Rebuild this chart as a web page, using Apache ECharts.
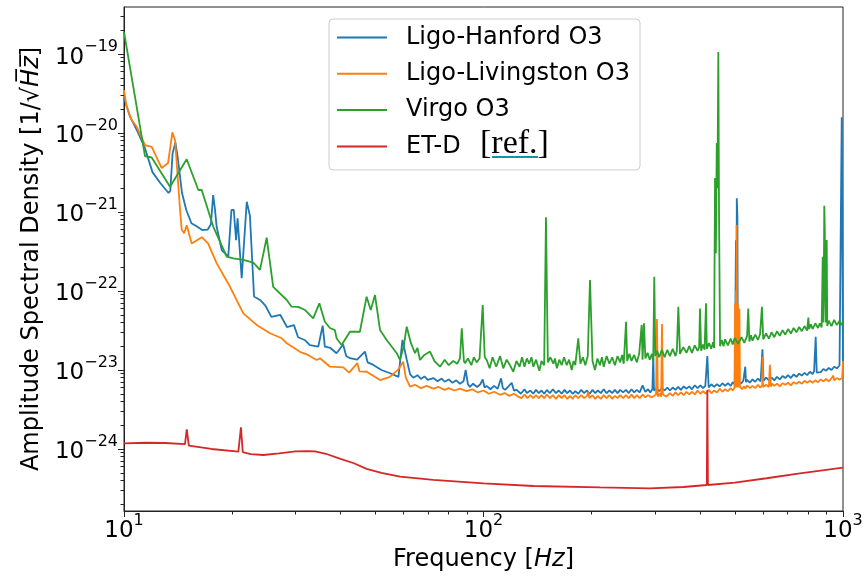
<!DOCTYPE html>
<html><head><meta charset="utf-8">
<script src="https://cdn.jsdelivr.net/npm/echarts@6/dist/echarts.min.js"></script>
<style>html,body{margin:0;padding:0;background:#fff}#c{width:864px;height:576px}</style>
</head><body><div id="c"></div>
<script>
// ---- data: [frequency (Hz), amplitude spectral density (1/sqrt(Hz))] ----
const hanford = [
[10,2.8e-20],[10.4,1.6e-20],[10.9,1.05e-20],[11.4,6.7e-21],[12.0,3.2e-21],[12.6,2.35e-21],[13.3,1.74e-21],[13.45,1.85e-21],[13.65,5.5e-21],[13.9,7.6e-21],[14.1,5.0e-21],[14.5,1.74e-21],[14.9,1.06e-21],[15.4,7.2e-22],[16.0,6.5e-22],[16.5,5.9e-22],[17.1,6.0e-22],[17.45,7.0e-22],[17.7,1.64e-21],[17.9,1.1e-21],[18.1,6.5e-22],[18.7,3.3e-22],[19.5,2.72e-22],[19.9,1.06e-21],[20.2,1.06e-21],[20.5,4.4e-22],[20.7,8.3e-22],[21.25,1.45e-22],[21.95,1.35e-21],[22.4,9.0e-22],[23.0,8.5e-23],[23.9,7.7e-23],[24.7,6.6e-23],[25.7,4.7e-23],[27.2,5.0e-23],[28.4,3.5e-23],[29.7,3.7e-23],[30.5,2.6e-23],[31.8,2.4e-23],[32.9,2.07e-23],[34.7,1.97e-23],[35.7,3.65e-23],[36.2,1.97e-23],[37.5,1.9e-23],[39.0,1.63e-23],[40.7,2.1e-23],[41.5,1.5e-23],[42.5,1.41e-23],[44.5,1.35e-23],[46.8,1.71e-23],[47.6,1.25e-23],[49.4,1.16e-23],[52,1.0e-23],[55,9.1e-24],[58,8.2e-24],[59.5,2.4e-23],
[61.2,1.34e-23],[62.5,8.8e-24],[63.8,8.0e-24],[65.5,8.6e-24],[67,7.7e-24],[68.5,8.3e-24],[70,7.5e-24],[72.5,7.9e-24],[74.5,7.2e-24],[76.5,7.8e-24],[78,7.1e-24],[80,7.6e-24],[82,6.9e-24],[84,7.4e-24],[86,6.7e-24],[88,7.2e-24],[89.2,1.0e-23],[90.5,6.6e-24],[91.7,6.1e-24],[93.5,6.7e-24],[96,6.1e-24],[98,6.6e-24],[99.5,7.6e-24],[100.7,6.0e-24],[102,6.3e-24],[104.5,5.7e-24],[107,6.3e-24],[109.5,5.8e-24],[111.9,7.85e-24],[113.2,5.9e-24],[114.8,5.6e-24],[117,6.1e-24],[119.8,6.9e-24],[121.5,5.5e-24],[123.7,5.6e-24],
[127,5.0e-24],[130,5.7e-24],[132,5.1e-24],[135,5.5e-24],[137.5,5.0e-24],[140,5.6e-24],[142.5,5.1e-24],[145,5.5e-24],[147.5,5.0e-24],[150,5.6e-24],[153,5.1e-24],[156,5.7e-24],[159,5.1e-24],[162,5.5e-24],[165,5.0e-24],[168,5.6e-24],[171,5.1e-24],[174,5.5e-24],[177,5.0e-24],[180,5.4e-24],[183.5,5.0e-24],[187,5.6e-24],[190.5,5.1e-24],[194,5.5e-24],[197.5,5.0e-24],[201,5.6e-24],[204.5,5.1e-24],[208,5.5e-24],[212,5.1e-24],[216,5.7e-24],[220,5.1e-24],[224,5.5e-24],[228,5.1e-24],[232,5.6e-24],[236,5.1e-24],[240,5.6e-24],[244.5,5.2e-24],[249,5.6e-24],[253.5,5.1e-24],[258,5.7e-24],[262.5,5.2e-24],[267,5.6e-24],[272,5.2e-24],[277,6.4e-24],[282,5.3e-24],[287,5.7e-24],[291,5.2e-24],[295,5.7e-24],[296.7,1.55e-23],[298,5.5e-24],[303,5.9e-24],[308,5.4e-24],[313.5,5.9e-24],[319,5.5e-24],[324.5,6.0e-24],[330,5.5e-24],[336,6.0e-24],[342,5.6e-24],[348,6.1e-24],[354,5.6e-24],[360.5,6.2e-24],[367,5.8e-24],[373.5,6.2e-24],[380,5.7e-24],[387,6.4e-24],[394,5.9e-24],[401,6.4e-24],[408,5.9e-24],[414,6.3e-24],[419.4,1.5e-23],[423,6.0e-24],[430.5,6.6e-24],[438,6.1e-24],[446,6.6e-24],[454,6.2e-24],[462,6.8e-24],[470,6.3e-24],[478.5,6.8e-24],[487,6.3e-24],[493.5,7.0e-24],[500,6.6e-24],[503.8,4.4e-22],[505,7.0e-24],[506.5,1.49e-21],[508.5,8.6e-22],[510,7.0e-24],[516,7.4e-24],[522,6.8e-24],[528,7.3e-24],[534.8,1.1e-23],[537,7.0e-24],[541,7.5e-24],[550.5,6.9e-24],[560,7.6e-24],[570,7.1e-24],[580,7.8e-24],[590,7.2e-24],[597,1.83e-23],[601,7.3e-24],[611.5,8.0e-24],[622,7.4e-24],[633,8.0e-24],[644,7.4e-24],[655.5,8.2e-24],[667,7.6e-24],[679,8.4e-24],[691,7.9e-24],[703.5,8.6e-24],[716,7.9e-24],[729,8.8e-24],[742,8.2e-24],[755,9.0e-24],[768,8.5e-24],[781.5,9.2e-24],[795,8.6e-24],[809,9.5e-24],[823,8.9e-24],[831,9.6e-24],[839.5,2.64e-23],[845,9.3e-24],[852,9.8e-24],[867,9.4e-24],[882,1.03e-23],[897.5,9.8e-24],[913,1.06e-23],[929,1.0e-23],[945,1.1e-23],[961.5,1.05e-23],[978,1.14e-23],[990,1.12e-23],[992,1.58e-20],[1000,1.2e-23]
];
const livingston = [
[10,3.5e-20],[10.17,2.15e-20],[10.5,1.46e-20],[10.85,1.2e-20],[11.44,7.05e-21],[11.94,6.7e-21],[12.73,3.6e-21],[13.26,4.17e-21],[13.63,1.02e-20],[13.87,8.1e-21],[14.32,1.06e-21],[14.47,6.0e-22],[14.7,5.4e-22],[14.94,6.8e-22],[15.43,4.0e-22],[16.45,4.8e-22],[17.13,4.0e-22],[18.11,2.24e-22],[19.72,1.13e-22],[21.47,5.2e-23],[23.39,3.72e-23],[25.48,2.92e-23],[27.46,2.52e-23],[28.36,2.18e-23],[30.87,1.7e-23],[32.5,1.55e-23],[34.36,1.34e-23],[35.1,1.41e-23],[37.41,1.1e-23],[40.74,1.08e-23],[42.3,9.25e-24],[44.56,1.22e-23],[45.2,9.6e-24],[47.33,9.5e-24],[51.54,7.46e-24],[54.94,8.2e-24],[57.94,1.02e-23],[59.8,1.27e-23],[60.8,8.0e-24],
[62.45,6.15e-24],[64.5,6.5e-24],[67,5.9e-24],[69.5,6.3e-24],[72.5,5.8e-24],[75,6.1e-24],[78,5.6e-24],[80,5.9e-24],[83,5.5e-24],[86,5.8e-24],[89.8,5.4e-24],[93,5.7e-24],[96.5,5.2e-24],[100,5.5e-24],[103.5,5.0e-24],[107,5.3e-24],[111.2,4.85e-24],[114.5,5.1e-24],[118,4.7e-24],[121.5,5.0e-24],
[125,4.6e-24],[127.5,4.4e-24],[130,4.9e-24],[132.5,4.4e-24],[135,4.8e-24],[137.5,4.4e-24],[140,4.8e-24],[142.5,4.4e-24],[145,4.8e-24],[147.5,4.4e-24],[150,4.9e-24],[153,4.4e-24],[156,4.8e-24],[159,4.3e-24],[162,4.8e-24],[165,4.4e-24],[168,4.8e-24],[171,4.3e-24],[174,4.7e-24],[177,4.3e-24],[180,4.8e-24],[183.5,4.4e-24],[187,4.8e-24],[190.5,4.4e-24],[194,4.7e-24],[195.6,5.3e-24],[197,4.4e-24],[201,4.8e-24],[204.5,4.3e-24],[208,4.7e-24],[212,4.3e-24],[216,4.8e-24],[220,4.4e-24],[224,4.8e-24],[228,4.3e-24],[232,4.7e-24],[236,4.4e-24],[240,4.8e-24],[244.5,4.4e-24],[249,4.8e-24],[253.5,4.4e-24],[258,4.9e-24],[262.5,4.4e-24],[267,4.8e-24],[272,4.4e-24],[277,4.9e-24],[282,4.5e-24],[287,4.8e-24],[294,4.5e-24],[302,4.9e-24],[303.8,4.43e-23],[305.5,4.6e-24],[309,5.0e-24],[312,4.6e-24],[313.7,3.82e-23],[315.5,4.9e-24],[322.5,4.6e-24],[330,5.1e-24],[336,4.7e-24],[342,5.2e-24],[348,4.8e-24],[354,5.2e-24],[360.5,4.8e-24],[367,5.3e-24],[373.5,4.9e-24],[380,5.3e-24],[387,4.9e-24],[394,5.5e-24],[401,5.0e-24],[408,5.4e-24],[415.5,5.0e-24],[423,5.6e-24],[430.5,5.1e-24],[438,5.5e-24],[446,5.2e-24],[454,5.8e-24],[462,5.3e-24],[470,5.7e-24],[478.5,5.4e-24],[487,5.9e-24],[493,5.5e-24],[499,5.9e-24],[501,7.0e-23],[502.5,6.0e-24],[504,1.0e-22],[505,6.0e-24],[506,6.84e-22],[507.5,6.0e-24],[510,7.0e-23],[512,6.0e-24],[515,6.0e-23],[517,6.1e-24],[523.5,5.7e-24],[530,6.2e-24],[535.5,5.8e-24],[541,6.4e-24],[550.5,5.9e-24],[560,6.3e-24],[570,5.9e-24],[580,6.5e-24],[588,6.0e-24],[596,6.4e-24],[597.5,1.47e-23],[599,6.1e-24],[610.5,6.5e-24],[622,6.1e-24],[626,1.16e-23],[630,6.2e-24],[637,6.7e-24],[644,6.3e-24],[655.5,6.7e-24],[667,6.2e-24],[679,6.8e-24],[691,6.5e-24],[703.5,6.9e-24],[716,6.4e-24],[729,7.0e-24],[742,6.7e-24],[755,7.1e-24],[768,6.7e-24],[781.5,7.3e-24],[795,6.9e-24],[809,7.3e-24],[823,6.9e-24],[837.5,7.4e-24],[852,7.0e-24],[867,7.6e-24],[882,7.2e-24],[897.5,7.7e-24],[913,7.2e-24],[926,7.7e-24],[940,8.5e-24],[945,7.4e-24],[961.5,7.9e-24],[978,7.5e-24],[995,8.0e-24],[1000,1.3e-23]
];
const virgo = [
[10,1.91e-19],[11.44,5.1e-21],[11.94,4.9e-21],[13.43,2.09e-21],[14.94,4.65e-21],[16.1,1.9e-21],[16.45,1.9e-21],[17.72,6.5e-22],[19.31,2.72e-22],[20.14,2.59e-22],[21.47,2.47e-22],[22.9,2.28e-22],[23.89,1.85e-22],[24.94,4.73e-22],[26.0,1.13e-22],[28.36,7.69e-23],[29.25,6.33e-23],[30.5,6.3e-23],[31.9,5.74e-23],[33.6,4.51e-23],[34.94,6.98e-23],[36.2,4.08e-23],[37.4,3.4e-23],[38.6,3.2e-23],[39.05,2.5e-23],[40.3,2.07e-23],[42.5,3.05e-23],[45.3,3.05e-23],[47.3,8.47e-23],[48.56,5.74e-23],[49.91,8.89e-23],[51.54,3.21e-23],[53.79,2.4e-23],[57.36,1.63e-23],
[58.57,1.34e-23],[60,2.0e-23],[61.15,3.53e-23],[62.8,2.2e-23],[64.48,1.63e-23],[65.5,1.9e-23],[66.57,1.34e-23],[68.5,1.55e-23],[71.0,1.71e-23],[73,1.3e-23],[75.7,1.1e-23],[78,1.35e-23],[80,1.15e-23],[82.4,1.3e-23],[84.5,1.2e-23],[86,1.4e-23],[87.0,3.37e-23],[88.2,1.3e-23],[88.8,1.22e-23],[90.5,1.4e-23],[92.5,1.15e-23],[94,1.45e-23],[95.7,1.25e-23],[97.5,1.4e-23],[99.5,6.65e-23],[100.8,1.45e-23],
[102.1,1.34e-23],[104,1.05e-23],[106,1.45e-23],[108.5,1.1e-23],[111.2,1.5e-23],[113.5,1.05e-23],[116,1.35e-23],[118.5,1.15e-23],[121.0,9.5e-24],[123.5,1.3e-23],[126,1.1e-23],[128,1.45e-23],[130,1.1e-23],[132,1.4e-23],[134,1.2e-23],[136,1.45e-23],[137.6,1.1e-23],[140,1.35e-23],[143,9.8e-24],[145,1.3e-23],[147.5,1.15e-23],[149.2,8.6e-22],[151,1.25e-23],[153.5,1.45e-23],[156.4,1.2e-23],[158,1.4e-23],[160,1.05e-23],[162.5,1.35e-23],[165,1.15e-23],[167.5,1.45e-23],[170.4,1.15e-23],[173,1.35e-23],[176,1.0e-23],[178,1.3e-23],[180,1.15e-23],[183.5,2.52e-23],[186,1.2e-23],[189,1.45e-23],[192,1.15e-23],[195,1.5e-23],[197.8,1.38e-22],[201,1.3e-23],[204.2,1.0e-23],[207.5,1.4e-23],[210.9,1.15e-23],[213.5,1.45e-23],[216,1.1e-23],[220,1.5e-23],[224,1.2e-23],[228,1.45e-23],[232,1.15e-23],[236,1.5e-23],[240,1.25e-23],[243,1.55e-23],[245.5,1.2e-23],[249.2,4.08e-23],[251,1.3e-23],[254.5,1.6e-23],[258,1.3e-23],[262.5,1.55e-23],[267,1.25e-23],[271,1.6e-23],[275.4,3.72e-23],[277,1.35e-23],[279.5,3.9e-23],[282,1.4e-23],[286,1.65e-23],[290,1.35e-23],[294,1.6e-23],[296.5,1.3e-23],[298.6,1.52e-22],[300.5,1.5e-23],[304,1.75e-23],[308,1.45e-23],[313.5,1.8e-23],[319,1.45e-23],[324.5,1.8e-23],[330,1.5e-23],[336,1.85e-23],[342,1.5e-23],[345,1.75e-23],[348.3,6.33e-23],[352,1.6e-23],[359.5,1.95e-23],[367,1.65e-23],[373.5,2.0e-23],[380,1.65e-23],[387,2.05e-23],[394,1.75e-23],[398,1.95e-23],[400.2,6.0e-23],[403,1.75e-23],[408,2.1e-23],[412,1.8e-23],[415.9,6.98e-23],[418,1.85e-23],[424,2.2e-23],[430,1.85e-23],[435,2.25e-23],[438,1.9e-23],[440.6,2.69e-21],[443,3.0e-22],[445.5,7.46e-21],[447.5,2.0e-21],[450,1.06e-19],[452,1.0e-21],[455,2.0e-23],[460,2.4e-23],[465,2.0e-23],[470,2.45e-23],[478.5,2.05e-23],[487,2.5e-23],[493.5,2.1e-23],[500,2.55e-23],[511,2.15e-23],[522,2.6e-23],[531.5,2.2e-23],[541,2.7e-23],[545.1,6.0e-23],[549,2.3e-23],[554.5,2.75e-23],[560,2.35e-23],[570,2.8e-23],[580,2.4e-23],[588,2.85e-23],[595,6.3e-23],[600,2.45e-23],[611,2.9e-23],[622,2.5e-23],[633,3.0e-23],[644,2.6e-23],[655.5,3.1e-23],[667,2.7e-23],[679,3.2e-23],[691,2.8e-23],[703.5,3.3e-23],[716,2.9e-23],[729,3.4e-23],[742,3.0e-23],[755,3.5e-23],[768,3.1e-23],[781.5,3.6e-23],[795,3.15e-23],[801,4.6e-23],[805,3.3e-23],[814,3.8e-23],[823,3.3e-23],[837.5,3.9e-23],[852,3.4e-23],[862,3.9e-23],[872,3.45e-23],[876,1.2e-22],[878,2.72e-22],[880,4.0e-23],[884,1.0e-22],[887,1.2e-21],[890,6.0e-22],[894,4.0e-23],[898,2.0e-22],[901,4.43e-22],[904,3.6e-23],[913,4.2e-23],[929,3.6e-23],[945,4.3e-23],[961.5,3.7e-23],[978,4.2e-23],[990,3.7e-23],[1000,4.1e-23]
];
const etd = [
[10,1.18e-24],[11.5,1.2e-24],[13,1.19e-24],[14.78,1.15e-24],[14.95,1.77e-24],[15.15,1.1e-24],[17.5,1.0e-24],[20.8,9.24e-25],[21.15,1.88e-24],[21.4,9.1e-25],[22.5,8.6e-25],[24.4,8.39e-25],[27.0,8.8e-25],[30.0,9.3e-25],[32.3,9.4e-25],[34.0,9.3e-25],[36.45,8.7e-25],[40,7.5e-25],[43.6,6.6e-25],[47.3,5.6e-25],[52,5.0e-25],[58.6,4.46e-25],[72.5,4.06e-25],[100,3.68e-25],[137.6,3.4e-25],[210.9,3.27e-25],[290,3.18e-25],[360,3.3e-25],[418,3.5e-25],[419.4,5.58e-24],[421,3.5e-25],[500,3.75e-25],[613,4.26e-25],[759,4.9e-25],[1000,5.8e-25]
];
const seriesNames = ['Ligo-Hanford O3','Ligo-Livingston O3','Virgo O3','ET-D'];
const seriesColors = ['#1f77b4','#ff7f0e','#2ca02c','#d62728'];
const xRange = [10, 1000];
const yRange = [1.64e-25, 3.94e-19];
const xTickExponents = [1, 2, 3];
const yTickExponents = [-24, -23, -22, -21, -20, -19];
const minorMultipliers = [2,3,4,5,6,7,8,9];

// ---- build ----
const lg = v => Math.log10(v);
const toLog = pts => pts.map(p => [lg(p[0]), lg(p[1])]);
function minorTicks(d0, d1){ const out=[]; for(let d=d0; d<=d1; d++){ minorMultipliers.forEach(m=>out.push(lg(m)+d)); } return out; }
const xMinor = minorTicks(1, 2);
const yMinor = minorTicks(-25, -19).filter(v => v > lg(yRange[0]) && v < lg(yRange[1]));
const supText = e => (e < 0 ? '\u2212' + Math.abs(e) : String(e));
const tickRich = {
  b: {fontFamily:'DejaVu Sans', fontSize:23, color:'#000', lineHeight:30, verticalAlign:'bottom'},
  s: {fontFamily:'DejaVu Sans', fontSize:16, color:'#000', lineHeight:16, verticalAlign:'top'}
};
const tickFmt = v => '{b|10}{s|' + supText(Math.round(v)) + '}';
const axColor = '#222';
const titleRich = {
  n:{fontFamily:'DejaVu Sans', fontSize:24, color:'#000', lineHeight:25},
  i:{fontFamily:'DejaVu Sans', fontStyle:'italic', fontSize:24, color:'#000', lineHeight:25}
};

const chart = echarts.init(document.getElementById('c'), null, {renderer:'canvas'});
const datasets = [hanford, livingston, virgo, etd];
chart.setOption({
  animation:false,
  backgroundColor:'#ffffff',
  grid:{left:124, right:21, top:7, bottom:65, show:true, borderColor:axColor, borderWidth:1, backgroundColor:'transparent', containLabel:false, outerBoundsMode:'none'},
  xAxis:[
    {type:'value', min:lg(xRange[0]), max:lg(xRange[1]), position:'bottom',
     axisLine:{show:true, onZero:false, lineStyle:{color:axColor, width:1}},
     axisTick:{show:true, length:6, customValues:xTickExponents, lineStyle:{color:axColor, width:1}},
     axisLabel:{show:true, customValues:xTickExponents, formatter:tickFmt, rich:tickRich, margin:2},
     splitLine:{show:false},
     name:'{n|Frequency [}{i|Hz}{n|]}', nameLocation:'middle', nameGap:36,
     nameTextStyle:{rich:titleRich}
    },
    {type:'value', min:lg(xRange[0]), max:lg(xRange[1]), position:'bottom', offset:0,
     axisLine:{show:false}, axisTick:{show:true, length:3.5, customValues:xMinor, lineStyle:{color:axColor, width:1}},
     axisLabel:{show:false}, splitLine:{show:false}}
  ],
  yAxis:[
    {type:'value', min:lg(yRange[0]), max:lg(yRange[1]), position:'left',
     axisLine:{show:true, onZero:false, lineStyle:{color:axColor, width:1}},
     axisTick:{show:true, length:6, customValues:yTickExponents, lineStyle:{color:axColor, width:1}},
     axisLabel:{show:true, customValues:yTickExponents, formatter:tickFmt, rich:tickRich, margin:6},
     splitLine:{show:false},
     name:'{n|Amplitude Spectral Density [1/\u221A}{i|H\u0305z\u0305}{n|]}', nameLocation:'middle', nameGap:77,
     nameTextStyle:{rich:titleRich}
    },
    {type:'value', min:lg(yRange[0]), max:lg(yRange[1]), position:'left', offset:0,
     axisLine:{show:false}, axisTick:{show:true, length:3.5, customValues:yMinor, lineStyle:{color:axColor, width:1}},
     axisLabel:{show:false}, splitLine:{show:false}}
  ],
  legend:{
    orient:'vertical', left:329, top:19, padding:[6,10,11,8], itemGap:11.3,
    itemWidth:50, itemHeight:2, icon:'rect', selectedMode:false,
    backgroundColor:'rgba(255,255,255,0.8)', borderColor:'#cccccc', borderWidth:1, borderRadius:4,
    textStyle:{fontFamily:'DejaVu Sans', fontSize:24, color:'#000', lineHeight:25, padding:[0,0,0,14]},
    data:seriesNames
  },
  graphic:[
    {type:'text', x:480, y:144, z:100,
     style:{text:'{k|[}{r|ref.}{k|]}', verticalAlign:'middle', textVerticalAlign:'middle', align:'left', textAlign:'left',
       rich:{k:{fontFamily:'Liberation Serif', fontSize:34, color:'#1a1a1a'}, r:{fontFamily:'Liberation Serif', fontSize:34, color:'#0f98a3'}}}},
    {type:'line', z:100, shape:{x1:492, y1:157, x2:538, y2:157}, style:{stroke:'#0f98a3', lineWidth:2}}
  ],
  series: datasets.map((d, i) => ({
    type:'line', name:seriesNames[i], data:toLog(d), xAxisIndex:0, yAxisIndex:0,
    showSymbol:false, symbol:'none', silent:true, clip:true,
    lineStyle:{width:1.8, color:seriesColors[i]}, itemStyle:{color:seriesColors[i]}
  }))
});
</script></body></html>
